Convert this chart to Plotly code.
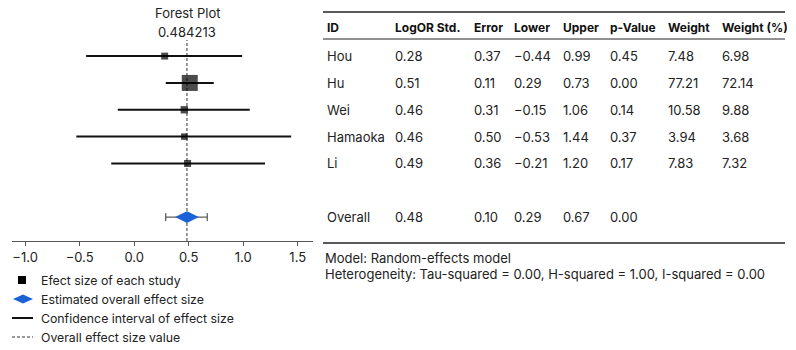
import plotly.graph_objects as go

# ---------------- data ----------------
study_ids = ["Hou", "Hu", "Wei", "Hamaoka", "Li"]
log_or = [0.28, 0.51, 0.46, 0.46, 0.49]
std_error = [0.37, 0.11, 0.31, 0.50, 0.36]
lower_ci = [-0.44, 0.29, -0.15, -0.53, -0.21]
upper_ci = [0.99, 0.73, 1.06, 1.44, 1.20]
p_values = [0.45, 0.00, 0.14, 0.37, 0.17]
weights = [7.48, 77.21, 10.58, 3.94, 7.83]
weight_pct = [6.98, 72.14, 9.88, 3.68, 7.32]

overall_label = "Overall"
overall_value = 0.484213
overall_se = 0.10
overall_lower = 0.29
overall_upper = 0.67
overall_p = 0.00

headers = ["ID", "LogOR Std.", "Error", "Lower", "Upper", "p-Value", "Weight", "Weight (%)"]
x_ticks = [-1.0, -0.5, 0.0, 0.5, 1.0, 1.5]
legend_labels = ["Efect size of each study", "Estimated overall effect size",
                 "Confidence interval of effect size", "Overall effect size value"]
model_text = "Model: Random-effects model"
hetero_text = "Heterogeneity: Tau-squared = 0.00, H-squared = 1.00, I-squared = 0.00"

# ---------------- layout helpers ----------------
W, H = 796, 350
def PX(x):
    return x / W
def PY(y):
    return 1 - y / H

FONT = "Inter"
TXT = "#222222"
FS = 13
FS_HEAD = 12
FS_LEG = 12.3

study_rows = list(range(len(study_ids)))
overall_row = len(study_ids) + 1

fig = go.Figure()

# CI lines
ci_x, ci_y = [], []
for r, lo, hi in zip(study_rows, lower_ci, upper_ci):
    ci_x += [lo, hi, None]
    ci_y += [r, r, None]
fig.add_trace(go.Scatter(x=ci_x, y=ci_y, mode="lines",
                         line=dict(color="#111111", width=2), hoverinfo="skip", showlegend=False))

# squares sized by weight
max_w = max(weight_pct)
sizes = [6 + 10 * w / max_w for w in weight_pct]
fig.add_trace(go.Scatter(x=log_or, y=study_rows, mode="markers",
                         marker=dict(symbol="square", size=sizes, color="#000000", line=dict(width=0)),
                         showlegend=False))

# overall diamond with error bars
fig.add_trace(go.Scatter(x=[overall_value], y=[overall_row], mode="markers",
                         marker=dict(symbol="diamond-wide", size=17, color="#1a62d6", line=dict(width=0)),
                         error_x=dict(type="data", symmetric=False,
                                      array=[overall_upper - overall_value],
                                      arrayminus=[overall_value - overall_lower],
                                      color="#333333", thickness=1, width=4),
                         showlegend=False))

shapes = []
# dashed vertical line at overall effect
shapes.append(dict(type="line", xref="x", yref="y domain", x0=overall_value, x1=overall_value,
                   y0=0, y1=1, line=dict(color="#333333", width=1, dash="3px,2px"), layer="below"))

annotations = []
annotations.append(dict(text="Forest Plot", x=PX(187), y=PY(13), xref="paper", yref="paper",
                        xanchor="center", yanchor="middle",
                        showarrow=False, font=dict(size=FS, color=TXT, family=FONT)))
annotations.append(dict(text=f"{overall_value:.6f}", x=PX(187), y=PY(32), xref="paper", yref="paper",
                        xanchor="center", yanchor="middle",
                        showarrow=False, font=dict(size=FS, color=TXT, family=FONT)))

# ---------------- table ----------------
col_x = [325, 393, 472, 512, 561, 608, 666, 720]
def fmt(v):
    s = f"{abs(v):.2f}"
    return ("\u2212" + s) if v < 0 else s

for cx, h in zip(col_x, headers):
    annotations.append(dict(text=f"<b>{h}</b>", x=PX(cx), y=PY(27), xref="paper", yref="paper",
                            xanchor="left", yanchor="middle", showarrow=False,
                            font=dict(size=FS_HEAD, color="#111111", family=FONT)))

for i, r in enumerate(study_rows):
    vals = [study_ids[i], fmt(log_or[i]), fmt(std_error[i]), fmt(lower_ci[i]), fmt(upper_ci[i]),
            fmt(p_values[i]), fmt(weights[i]), fmt(weight_pct[i])]
    for cx, v in zip(col_x, vals):
        annotations.append(dict(text=v, x=PX(cx), y=r, xref="paper", yref="y",
                                xanchor="left", yanchor="middle", showarrow=False,
                                font=dict(size=FS, color=TXT, family=FONT)))

ov_vals = [overall_label, fmt(overall_value), fmt(overall_se), fmt(overall_lower),
           fmt(overall_upper), fmt(overall_p)]
for cx, v in zip(col_x, ov_vals):
    annotations.append(dict(text=v, x=PX(cx), y=overall_row, xref="paper", yref="y",
                            xanchor="left", yanchor="middle", showarrow=False,
                            font=dict(size=FS, color=TXT, family=FONT)))

for yy, wdt in [(12, 1.5), (39, 1), (243, 1.5)]:
    shapes.append(dict(type="line", xref="paper", yref="paper", x0=PX(323), x1=PX(785),
                       y0=PY(yy), y1=PY(yy), line=dict(color="#222222", width=wdt)))

annotations.append(dict(text=model_text, x=PX(323), y=PY(258), xref="paper", yref="paper",
                        xanchor="left", yanchor="middle", showarrow=False,
                        font=dict(size=FS, color=TXT, family=FONT)))
annotations.append(dict(text=hetero_text, x=PX(323), y=PY(274), xref="paper", yref="paper",
                        xanchor="left", yanchor="middle", showarrow=False,
                        font=dict(size=FS, color=TXT, family=FONT)))

# ---------------- manual legend ----------------
leg_y = [280, 299, 318, 337]
# square
shapes.append(dict(type="rect", xref="paper", yref="paper", x0=PX(18), x1=PX(26),
                   y0=PY(284), y1=PY(276), fillcolor="#000000", line=dict(width=0)))
# diamond
cxp, cyp = 23, leg_y[1]
path = (f"M {PX(cxp-10)} {PY(cyp)} L {PX(cxp)} {PY(cyp-4.5)} L {PX(cxp+10)} {PY(cyp)} "
        f"L {PX(cxp)} {PY(cyp+4.5)} Z")
shapes.append(dict(type="path", xref="paper", yref="paper", path=path,
                   fillcolor="#1a62d6", line=dict(width=0)))
# solid line
shapes.append(dict(type="line", xref="paper", yref="paper", x0=PX(12), x1=PX(33),
                   y0=PY(leg_y[2]), y1=PY(leg_y[2]), line=dict(color="#111111", width=2)))
# dashed line
shapes.append(dict(type="line", xref="paper", yref="paper", x0=PX(12), x1=PX(33),
                   y0=PY(leg_y[3]), y1=PY(leg_y[3]), line=dict(color="#333333", width=1, dash="3px,2px")))
for yy, lab in zip(leg_y, legend_labels):
    annotations.append(dict(text=lab, x=PX(39), y=PY(yy), xref="paper", yref="paper",
                            xanchor="left", yanchor="middle", showarrow=False,
                            font=dict(size=FS_LEG, color=TXT, family=FONT)))

fig.update_layout(
    width=W, height=H,
    margin=dict(l=0, r=0, t=0, b=0),
    paper_bgcolor="white", plot_bgcolor="white",
    font=dict(family=FONT, size=FS, color=TXT),
    showlegend=False,
    xaxis=dict(domain=[PX(12), PX(313)], range=[-1.12, 1.64], tickvals=x_ticks, tickformat=".1f",
               showline=True, linecolor="#555555", linewidth=1, ticks="outside", ticklen=4,
               tickcolor="#555555", showgrid=False, zeroline=False,
               tickfont=dict(size=FS, color=TXT, family=FONT)),
    yaxis=dict(domain=[PY(241), PY(40)], range=[overall_row + 0.89, -0.6], visible=False),
    shapes=shapes, annotations=annotations,
)

fig.write_html("out.html")
